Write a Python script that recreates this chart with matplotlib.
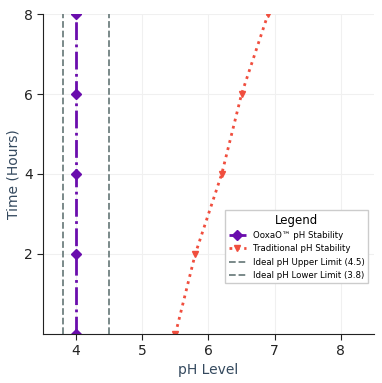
import matplotlib
matplotlib.use("Agg")
import matplotlib.pyplot as plt

# data
time_hours = [0, 2, 4, 6, 8]
ooxao_ph = [4.0, 4.0, 4.0, 4.0, 4.0]
traditional_ph = [5.5, 5.8, 6.2, 6.5, 6.9]
ideal_upper = 4.5
ideal_lower = 3.8

label_color = "#34495e"

fig = plt.figure(figsize=(3.82, 3.83), dpi=100)
ax = fig.add_axes([0.1126, 0.128, 0.8664, 0.8354])

ax.plot(ooxao_ph, time_hours, color="#6a0dad", linestyle="-.", linewidth=2,
        marker="D", markersize=5, label="OoxaO™ pH Stability")
ax.plot(traditional_ph, time_hours, color="#f04e3e", linestyle=":", linewidth=2,
        marker="v", markersize=5, label="Traditional pH Stability")
ax.axvline(ideal_upper, color="#708080", linestyle="--", linewidth=1.3,
           label="Ideal pH Upper Limit (4.5)")
ax.axvline(ideal_lower, color="#708080", linestyle="--", linewidth=1.3,
           label="Ideal pH Lower Limit (3.8)")

ax.set_xlim(3.5, 8.5)
ax.set_ylim(0, 8)
ax.set_xticks([4, 5, 6, 7, 8])
ax.set_yticks([2, 4, 6, 8])
ax.tick_params(labelsize=10, colors="#222222", direction="out", length=4)
ax.grid(True, color="#f0f0f0", linewidth=0.8)
ax.set_axisbelow(True)
for side in ["top", "right"]:
    ax.spines[side].set_visible(False)
for side in ["left", "bottom"]:
    ax.spines[side].set_color("#222222")

ax.set_xlabel("pH Level", fontsize=10, color=label_color, labelpad=3)
ax.set_ylabel("Time (Hours)", fontsize=10, color=label_color, labelpad=2)

leg = ax.legend(title="Legend", loc="lower right", bbox_to_anchor=(0.995, 0.145),
                fontsize=6.2, title_fontsize=8.5, frameon=True, framealpha=1,
                edgecolor="#cccccc", fancybox=False)

fig.savefig("out.png", dpi=100)
